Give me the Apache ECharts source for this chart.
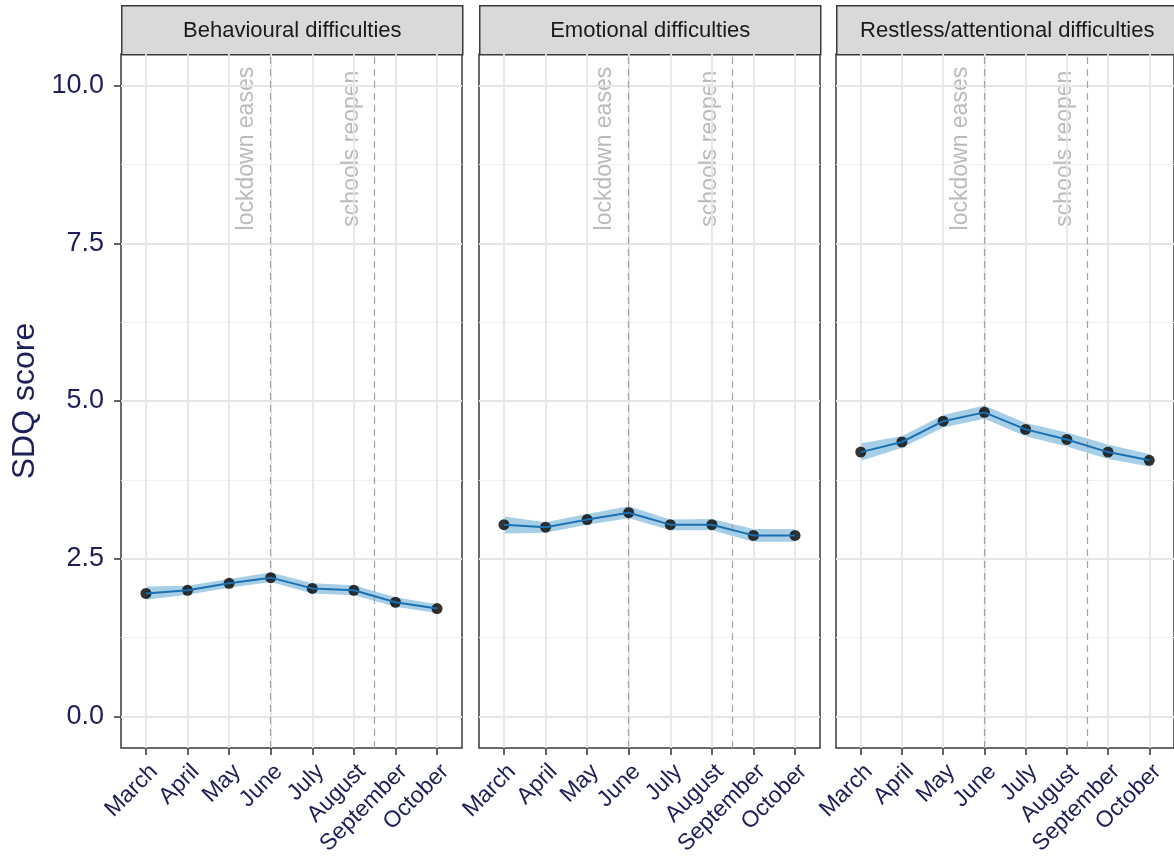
<!DOCTYPE html>
<html>
<head>
<meta charset="utf-8">
<script src="https://cdn.jsdelivr.net/npm/echarts@6/dist/echarts.min.js"></script>
<style>
  html, body { margin: 0; padding: 0; background: #fff; }
  #chart { width: 1174px; height: 865px; }
</style>
</head>
<body>
<div id="chart"></div>
<script>
// Months on the x axis (positions 1..8)
const months = ['March', 'April', 'May', 'June', 'July', 'August', 'September', 'October'];
const monthPos = [1, 2, 3, 4, 5, 6, 7, 8];

// Facet titles
const panels = ['Behavioural difficulties', 'Emotional difficulties', 'Restless/attentional difficulties'];

// Mean SDQ score per month with confidence band
const behavMean  = [1.95, 2.00, 2.11, 2.20, 2.03, 2.00, 1.81, 1.71];
const behavLower = [1.85, 1.93, 2.04, 2.13, 1.95, 1.92, 1.74, 1.64];
const behavUpper = [2.06, 2.07, 2.18, 2.28, 2.11, 2.08, 1.89, 1.78];

const emoMean  = [3.04, 3.00, 3.12, 3.23, 3.04, 3.04, 2.87, 2.87];
const emoLower = [2.90, 2.91, 3.04, 3.14, 2.95, 2.95, 2.77, 2.77];
const emoUpper = [3.17, 3.08, 3.21, 3.33, 3.12, 3.13, 2.97, 2.97];

const restMean  = [4.19, 4.35, 4.68, 4.82, 4.55, 4.39, 4.19, 4.06];
const restLower = [4.05, 4.26, 4.58, 4.72, 4.44, 4.28, 4.08, 3.96];
const restUpper = [4.33, 4.44, 4.78, 4.93, 4.65, 4.50, 4.31, 4.16];

// y axis ticks and minor grid
const yTicks = [0, 2.5, 5, 7.5, 10];
const yMinor = [1.25, 3.75, 6.25, 8.75];

// Event markers: vertical dashed lines and their labels
const eventX = [4, 6.5];
const eventLabels = ['lockdown eases', 'schools reopen'];
const eventLabelX = [3.42, 5.95];
const eventLabelY = 9.0;

const means  = [behavMean, emoMean, restMean];
const lowers = [behavLower, emoLower, restLower];
const uppers = [behavUpper, emoUpper, restUpper];

const TEXT = '#1e1e58';
const FONT = 'Liberation Sans, Arial, sans-serif';

const gridLeft = [121, 479, 836];
const gridW = 341, gridTop = 54, gridH = 694;

const grids = [], xAxes = [], yAxes = [], series = [], graphics = [];

panels.forEach((title, i) => {
  grids.push({
    left: gridLeft[i], top: gridTop, width: gridW, height: gridH,
    show: true, borderColor: '#3a3a3a', borderWidth: 1.5, backgroundColor: '#fff'
  });
  xAxes.push({
    type: 'value', gridIndex: i, min: 0.4, max: 8.6,
    axisLine: { show: false, onZero: false },
    splitLine: { show: false },
    axisTick: { show: true, customValues: monthPos, length: 7, lineStyle: { color: '#333', width: 1.5 } },
    axisLabel: {
      show: true, customValues: monthPos, rotate: 45, margin: 12,
      verticalAlign: 'top',
      formatter: v => months[Math.round(v) - 1] || '',
      color: TEXT, fontSize: 23, fontFamily: FONT
    }
  });
  yAxes.push({
    type: 'value', gridIndex: i, min: -0.5, max: 10.5,
    axisLine: { show: false, onZero: false },
    splitLine: { show: false },
    axisTick: { show: i === 0, customValues: yTicks, length: 7, lineStyle: { color: '#333', width: 1.5 } },
    axisLabel: {
      show: i === 0, customValues: yTicks, margin: 17,
      formatter: v => v.toFixed(1),
      color: TEXT, fontSize: 27, fontFamily: FONT
    },
    name: i === 0 ? 'SDQ score' : '',
    nameLocation: 'middle', nameRotate: 90, nameGap: 80,
    nameTextStyle: { color: TEXT, fontSize: 32, fontFamily: FONT }
  });

  // background grid lines
  series.push({
    type: 'line', xAxisIndex: i, yAxisIndex: i, data: [], silent: true, z: 1,
    markLine: {
      silent: true, symbol: ['none', 'none'], animation: false,
      label: { show: false },
      data: [
        ...yMinor.map(v => ({ yAxis: v, lineStyle: { color: '#f0f0f0', width: 1, type: 'solid' } })),
        ...yTicks.map(v => ({ yAxis: v, lineStyle: { color: '#e6e6e6', width: 1.8, type: 'solid' } })),
        ...monthPos.map(v => ({ xAxis: v, lineStyle: { color: '#e6e6e6', width: 1.8, type: 'solid' } }))
      ]
    }
  });

  // event markers
  series.push({
    type: 'line', xAxisIndex: i, yAxisIndex: i, data: [], silent: true, z: 2,
    markLine: {
      silent: true, symbol: ['none', 'none'], animation: false,
      label: { show: false },
      lineStyle: { color: '#a3a3a3', width: 1.2, type: [7, 5] },
      data: eventX.map(v => ({ xAxis: v }))
    }
  });
  series.push({
    type: 'scatter', xAxisIndex: i, yAxisIndex: i, silent: true, z: 3,
    symbolSize: 1, itemStyle: { color: 'rgba(0,0,0,0)' },
    data: eventLabels.map((t, k) => [eventLabelX[k], eventLabelY, t]),
    label: {
      show: true, position: 'inside', rotate: 90,
      formatter: p => p.data[2],
      color: '#a9a9a9', fontSize: 23, fontFamily: FONT
    }
  });

  // confidence band
  const lo = lowers[i], up = uppers[i];
  series.push({
    type: 'custom', xAxisIndex: i, yAxisIndex: i, silent: true, z: 4,
    data: monthPos.map((x, k) => [x, lo[k], up[k]]),
    renderItem: (params, api) => {
      if (params.dataIndex !== 0) return null;
      const top = monthPos.map((x, k) => api.coord([x, up[k]]));
      const bot = monthPos.map((x, k) => api.coord([x, lo[k]])).reverse();
      return {
        type: 'polygon',
        shape: { points: top.concat(bot) },
        style: { fill: '#a6cfe7' }
      };
    }
  });

  // points
  series.push({
    type: 'scatter', xAxisIndex: i, yAxisIndex: i, silent: true, z: 5,
    symbol: 'circle', symbolSize: 11,
    itemStyle: { color: '#000' },
    data: monthPos.map((x, k) => [x, means[i][k]])
  });

  // mean line
  series.push({
    type: 'line', xAxisIndex: i, yAxisIndex: i, silent: true, z: 6,
    symbol: 'none',
    lineStyle: { color: '#1a70b2', width: 2 },
    data: monthPos.map((x, k) => [x, means[i][k]])
  });

  // facet strip
  graphics.push({
    type: 'group', left: gridLeft[i], top: 5,
    children: [
      { type: 'rect', shape: { x: 0, y: 0, width: gridW, height: 49 },
        style: { fill: '#d9d9d9', stroke: '#3a3a3a', lineWidth: 1.5 } },
      { type: 'text', x: gridW / 2, y: 25,
        style: { text: title, fill: '#1a1a1a', fontSize: 22, fontFamily: FONT,
                 align: 'center', verticalAlign: 'middle' } }
    ]
  });
});

const chart = echarts.init(document.getElementById('chart'), null, { renderer: 'canvas' });
chart.setOption({
  animation: false,
  backgroundColor: '#fff',
  grid: grids,
  xAxis: xAxes,
  yAxis: yAxes,
  series: series,
  graphic: graphics
});
</script>
</body>
</html>
